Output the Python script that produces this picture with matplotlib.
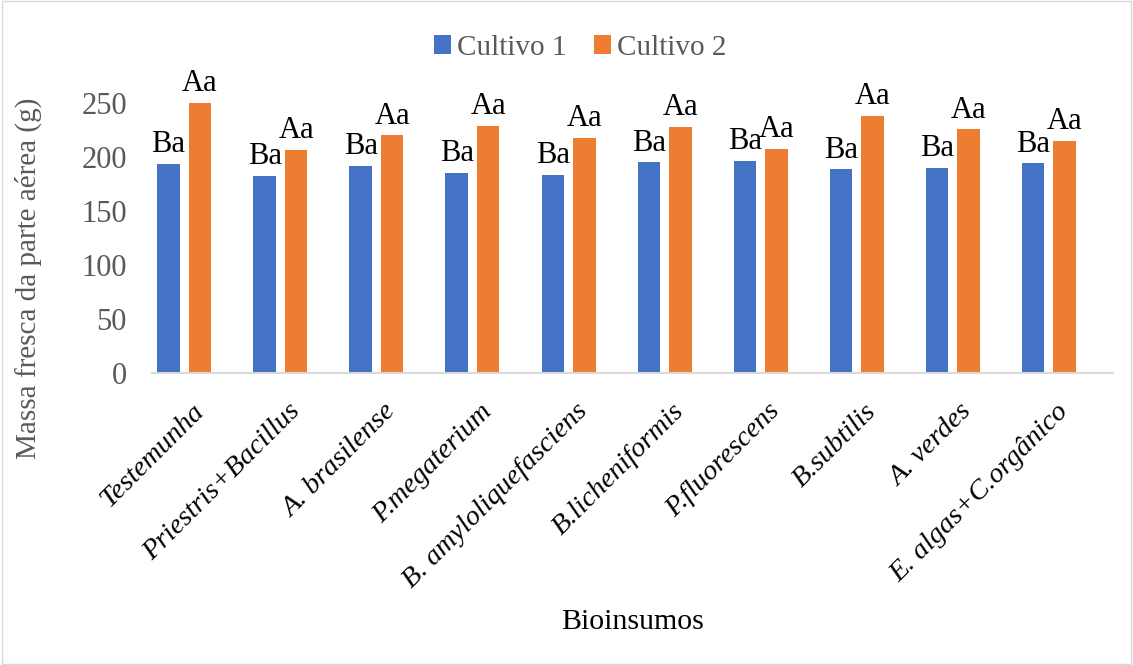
import matplotlib
matplotlib.use("Agg")
from matplotlib import pyplot as plt
from matplotlib.patches import Rectangle
import numpy as np

# data
bioinsumos = ["Testemunha", "Priestris+Bacillus", "A. brasilense", "P.megaterium",
              "B. amyloliquefasciens", "B.licheniformis", "P.fluorescens", "B.subtilis",
              "A. verdes", "E. algas+C.orgânico"]
cultivo1 = [193.5, 182.5, 191.5, 185.5, 183.5, 195, 196.5, 188.5, 189.5, 194]
cultivo2 = [250.5, 206.5, 220, 229, 218, 227.5, 207.5, 238, 225.5, 215]
letras1 = ["Ba"] * 10
letras2 = ["Aa"] * 10

blue = "#4472C4"
orange = "#ED7D31"
grey = "#595959"

plt.rcParams["font.family"] = ["Liberation Serif", "DejaVu Serif"]

fig = plt.figure(figsize=(11.33, 6.65), dpi=100)
ax = fig.add_axes([152 / 1133, 1 - 373 / 665, (1112.7 - 152) / 1133, (373 - 103) / 665])

x = np.arange(len(bioinsumos))
w = 0.234
b1 = ax.bar(x - 0.328, cultivo1, w, color=blue, label="Cultivo 1")
b2 = ax.bar(x, cultivo2, w, color=orange, label="Cultivo 2")

for bars, letras in [(b1, letras1), (b2, letras2)]:
    for rect, t in zip(bars, letras):
        ax.annotate(t, (rect.get_x() + rect.get_width() / 2, rect.get_height()),
                    xytext=(0, 3.5), textcoords="offset points", ha="center", va="bottom",
                    fontsize=22, color="black", annotation_clip=False)

ax.set_xlim(-0.5, 9.5)
ax.set_ylim(0, 250)
ax.set_yticks([0, 50, 100, 150, 200, 250])
ax.tick_params(axis="y", length=0, pad=18, labelsize=22, labelcolor=grey)
ax.tick_params(axis="x", length=0, pad=25)
ax.set_xticks(x)
ax.set_xticklabels(bioinsumos, rotation=45, ha="right", va="center",
                   rotation_mode="anchor", fontsize=20.5, style="italic")

for s in ["top", "right", "left"]:
    ax.spines[s].set_visible(False)
ax.spines["bottom"].set_color("#D9D9D9")
ax.spines["bottom"].set_linewidth(1.5)

fig.text(28 / 1133, 1 - 278 / 665, "Massa fresca da parte aérea (g)", rotation=90,
         ha="center", va="center", fontsize=21, color=grey)
fig.text(633 / 1133, 1 - 622 / 665, "Bioinsumos", ha="center", va="center",
         fontsize=21.5, color="black")

fig.legend(handles=[b1, b2], loc="center", bbox_to_anchor=(580 / 1133, 1 - 48 / 665),
           ncol=2, frameon=False, fontsize=21, handlelength=0.6, handleheight=0.6,
           handletextpad=0.2, columnspacing=0.93, labelcolor=grey)

fig.add_artist(Rectangle((0.002, 0.002), 0.996, 0.996, transform=fig.transFigure,
                         fill=False, edgecolor="#D9D9D9", linewidth=1))

fig.savefig("out.png", dpi=100)
